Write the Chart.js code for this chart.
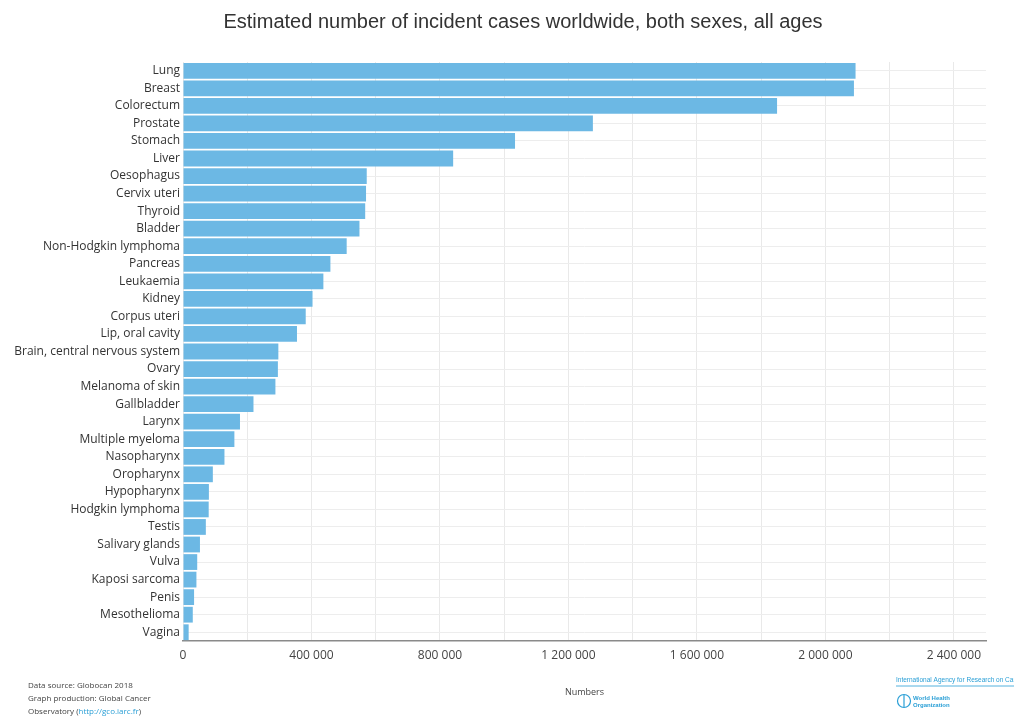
<!DOCTYPE html>
<html lang="en">
<head>
    <meta charset="UTF-8">
    <title>Estimated number of incident cases worldwide</title>
    <script src="https://cdn.jsdelivr.net/npm/chart.js"></script>
    <style>
        body { margin: 0; background: #fff; }
        canvas { display: block; }
    </style>
</head>
<body>
    <canvas id="myChart" width="1014" height="720"></canvas>
    <script>
        // Cancer sites and estimated incident cases (Globocan 2018)
        const sites = [
            'Lung', 'Breast', 'Colorectum', 'Prostate', 'Stomach', 'Liver',
            'Oesophagus', 'Cervix uteri', 'Thyroid', 'Bladder', 'Non-Hodgkin lymphoma',
            'Pancreas', 'Leukaemia', 'Kidney', 'Corpus uteri', 'Lip, oral cavity',
            'Brain, central nervous system', 'Ovary', 'Melanoma of skin', 'Gallbladder',
            'Larynx', 'Multiple myeloma', 'Nasopharynx', 'Oropharynx', 'Hypopharynx',
            'Hodgkin lymphoma', 'Testis', 'Salivary glands', 'Vulva', 'Kaposi sarcoma',
            'Penis', 'Mesothelioma', 'Vagina'
        ];
        const cases = [
            2093876, 2088849, 1849518, 1276106, 1033701, 841080,
            572034, 569847, 567233, 549393, 509590,
            458918, 437033, 403262, 382069, 354864,
            296851, 295414, 287723, 219420,
            177422, 159985, 129079, 92887, 80608,
            79990, 71105, 52799, 44235, 41799,
            34475, 30443, 17600
        ];
        const tickStep = 200000;   // grid lines
        const labelStep = 400000;  // labelled ticks
        const axisMax = 2500000;

        function fmt(v) {
            return String(Math.round(v)).replace(/\B(?=(\d{3})+(?!\d))/g, ' ');
        }

        // title and footer texts
        const decorations = {
            id: 'decorations',
            afterDraw(chart) {
                const ctx = chart.ctx;
                ctx.save();
                ctx.fillStyle = '#333';
                ctx.font = '20px "Liberation Sans", sans-serif';
                ctx.textAlign = 'center';
                ctx.textBaseline = 'middle';
                ctx.fillText('Estimated number of incident cases worldwide, both sexes, all ages', 523, 22);

                ctx.textAlign = 'left';
                ctx.font = '8px "Open Sans", sans-serif';
                ctx.fillStyle = '#444';
                ctx.fillText('Data source: Globocan 2018', 28, 686);
                ctx.fillText('Graph production: Global Cancer', 28, 699);
                ctx.fillText('Observatory (', 28, 712);
                const w1 = ctx.measureText('Observatory (').width;
                ctx.fillStyle = '#2a9fd6';
                ctx.fillText('http://gco.iarc.fr', 28 + w1, 712);
                const w2 = ctx.measureText('http://gco.iarc.fr').width;
                ctx.fillStyle = '#444';
                ctx.fillText(')', 28 + w1 + w2, 712);

                // IARC / WHO
                ctx.fillStyle = '#2a9fd6';
                ctx.strokeStyle = '#2a9fd6';
                ctx.font = '6.5px "Liberation Sans", sans-serif';
                ctx.fillText('International Agency for Research on Cancer', 896, 680);
                ctx.lineWidth = 0.8;
                ctx.beginPath();
                ctx.moveTo(896, 686);
                ctx.lineTo(1014, 686);
                ctx.stroke();
                ctx.lineWidth = 1.2;
                ctx.beginPath();
                ctx.arc(904, 701, 6.5, 0, Math.PI * 2);
                ctx.stroke();
                ctx.beginPath();
                ctx.moveTo(904, 695);
                ctx.lineTo(904, 707);
                ctx.stroke();
                ctx.font = 'bold 6px "Liberation Sans", sans-serif';
                ctx.fillText('World Health', 913, 698);
                ctx.fillText('Organization', 913, 705);
                ctx.restore();
            }
        };

        const ctx = document.getElementById('myChart').getContext('2d');
        const myChart = new Chart(ctx, {
            type: 'bar',
            data: {
                labels: sites,
                datasets: [{
                    label: 'Incident cases',
                    data: cases,
                    backgroundColor: '#6cb8e4',
                    borderWidth: 0,
                    barPercentage: 0.9,
                    categoryPercentage: 1.0
                }]
            },
            options: {
                indexAxis: 'y',
                responsive: false,
                animation: false,
                layout: {
                    padding: { top: 62, right: 28, bottom: 0, left: 0 }
                },
                scales: {
                    x: {
                        type: 'linear',
                        min: 0,
                        max: axisMax,
                        // fixed grid every 200 000 up to the last full step
                        afterBuildTicks: scale => {
                            const t = [];
                            for (let v = 0; v <= axisMax; v += tickStep) t.push({ value: v });
                            scale.ticks = t;
                        },
                        afterFit: scale => { scale.height = 79; },
                        ticks: {
                            autoSkip: false,
                            maxRotation: 0,
                            padding: 7,
                            color: '#444',
                            font: { family: '"Open Sans", sans-serif', size: 12 },
                            callback: v => (v % labelStep === 0 ? fmt(v) : '')
                        },
                        grid: { drawTicks: false, color: '#e9e9e9' },
                        border: { color: '#8a8a8a', width: 1.5 },
                        title: {
                            display: true,
                            text: 'Numbers',
                            color: '#444',
                            font: { family: '"Open Sans", sans-serif', size: 9 },
                            padding: { top: 0, bottom: 22 }
                        }
                    },
                    y: {
                        afterFit: scale => { scale.width = 183; },
                        ticks: {
                            autoSkip: false,
                            padding: 3,
                            color: '#333',
                            font: { family: '"Open Sans", sans-serif', size: 12 }
                        },
                        grid: { color: '#ededed', offset: false, drawTicks: false },
                        border: { display: false }
                    }
                },
                plugins: {
                    legend: { display: false },
                    tooltip: { enabled: false }
                }
            },
            plugins: [decorations]
        });
    </script>
</body>
</html>
